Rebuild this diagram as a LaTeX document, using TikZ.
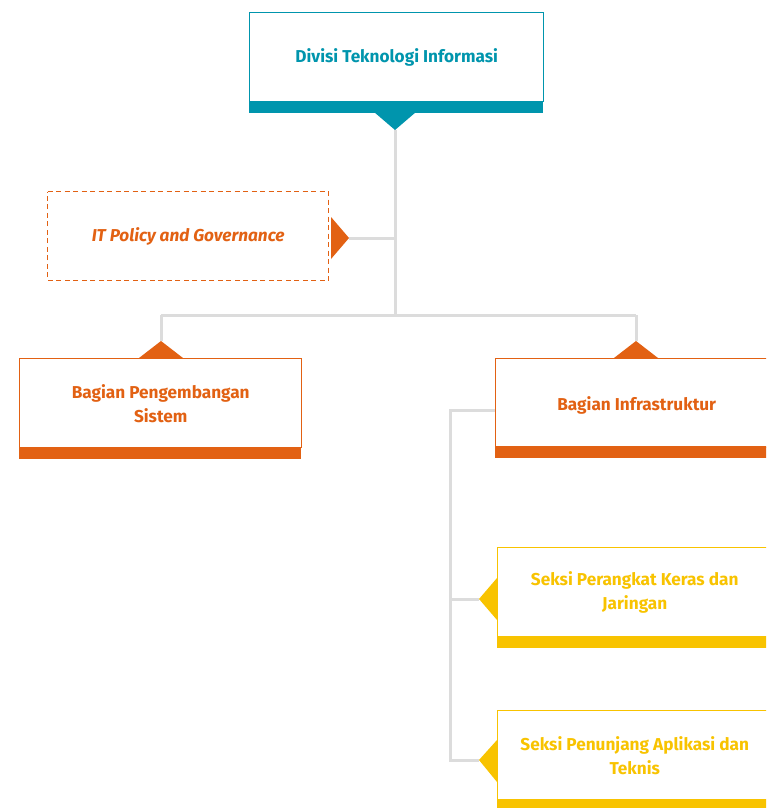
\documentclass[tikz,border=0pt]{standalone}
\usepackage{fontspec}
\setmainfont{Fira Sans}
\usetikzlibrary{calc}
\definecolor{tealc}{HTML}{0095AD}
\definecolor{orng}{HTML}{E26113}
\definecolor{yell}{HTML}{F8C300}
\definecolor{linec}{HTML}{DCDCDC}
\tikzset{
  boxn/.style={draw=#1, text=#1, line width=1.4pt, inner sep=0pt, align=center, anchor=north west,
    minimum height=89pt, font=\fontsize{17.2}{24}\selectfont\bfseries},
  conn/.style={draw=linec, line width=3pt},
}
\begin{document}
\begin{tikzpicture}[x=1pt,y=-1pt]
\useasboundingbox (0,0) rectangle (766,808);
\clip (0,0) rectangle (766,808);
\fill[white] (0,0) rectangle (766,808);

% connectors
\coordinate (t1) at (395,130);
\coordinate (j1) at (395,238);
\coordinate (j2) at (395,315);
\coordinate (jl) at (161,315);
\coordinate (jr) at (636,315);
\coordinate (tl) at (161,341);
\coordinate (tr) at (636,341);
\coordinate (ti) at (349,238);
\coordinate (k0) at (450,410);
\coordinate (k1) at (450,599);
\coordinate (k2) at (450,760);
\coordinate (s1) at (479,599);
\coordinate (s2) at (479,760);

% boxes
\node[boxn=tealc, minimum width=294pt] (top) at (249,12) {Divisi Teknologi Informasi};
\fill[tealc] (top.south west) rectangle ++(294,11);
\fill[tealc] (374,112) -- (416,112) -- (t1) -- cycle;

\node[text=orng, inner sep=0pt,
  anchor=north west, minimum width=282pt, minimum height=90pt,
  font=\fontsize{17.2}{24}\selectfont\bfseries\itshape] (itp) at (47,191) {IT Policy and Governance};
\draw[draw=orng, line width=1.4pt, dash pattern=on 5pt off 3.5pt] (47.5,191.5) -- (328.5,191.5) -- (328.5,280.5) -- (47.5,280.5) -- cycle;
\fill[orng] (331,217) -- (ti) -- (331,259) -- cycle;

\node[boxn=orng, minimum width=282pt] (bps) at (19,358) {Bagian Pengembangan\\Sistem};
\fill[orng] (bps.south west) rectangle ++(282,11);
\fill[orng] (139,358) -- (tl) -- (183,358) -- cycle;

\node[boxn=orng, draw=none, minimum width=282pt, yshift=-2pt] (bif) at (495,358) {Bagian Infrastruktur};
\draw[orng, line width=1.2pt] (495.5,358.5) rectangle (777,447);
\fill[orng] (495,447) rectangle ++(282,11);
\fill[orng] (614,358) -- (tr) -- (658,358) -- cycle;

\node[boxn=yell, minimum width=274pt] (sp1) at (497,547) {Seksi Perangkat Keras dan\\Jaringan};
\fill[yell] (sp1.south west) rectangle ++(274,11);
\fill[yell] (497,578) -- (s1) -- (497,620) -- cycle;

\node[boxn=yell, minimum width=274pt] (sp2) at (497,710) {Seksi Penunjang Aplikasi dan\\Teknis};
\fill[yell] (sp2.south west) rectangle ++(274,11);
\fill[yell] (497,740) -- (s2) -- (497,782) -- cycle;

% lines
\draw[conn] (495,410) -- (k0) -- (k2) -- (s2);
\draw[conn] (k1) -- (s1);
\draw[conn] (t1) -- (j2);
\draw[conn] (ti) -- (j1);
\draw[conn] (jl) -- (jr);
\draw[conn] (jl) -- (tl);
\draw[conn] (jr) -- (tr);
\end{tikzpicture}
\end{document}
